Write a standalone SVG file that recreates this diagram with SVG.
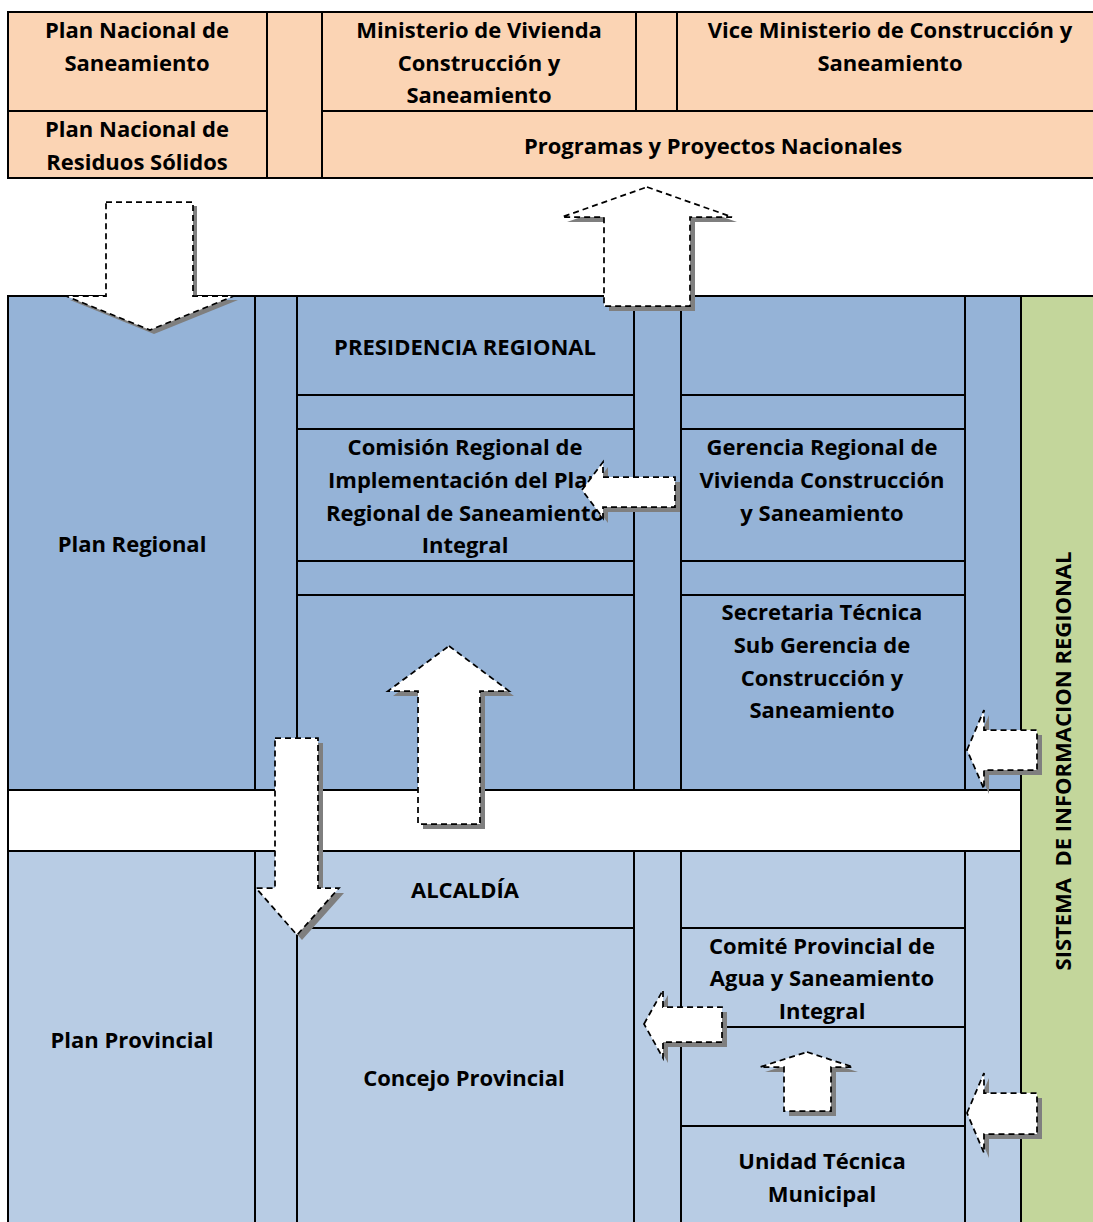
<svg xmlns="http://www.w3.org/2000/svg" width="1093" height="1222" viewBox="0 0 1093 1222">
<style>
  .t{font-family:"Open Sans","Liberation Sans",sans-serif;font-weight:bold;font-size:22px;fill:#000;text-anchor:middle}
  .ln{stroke:#000;stroke-width:2;fill:none}
  .sh{fill:#7f7f7f;stroke:none}
  .ar{fill:#fff;stroke:#000;stroke-width:1.75;stroke-dasharray:6,4;stroke-linejoin:miter}
</style>
<rect width="1093" height="1222" fill="#fff"/>

<!-- Top national table -->
<g id="national">
  <rect x="8" y="12" width="1090" height="166" fill="#FBD4B4"/>
  <g class="ln">
    <line x1="8" y1="12" x2="1093" y2="12"/>
    <line x1="8" y1="178" x2="1093" y2="178"/>
    <line x1="8" y1="11" x2="8" y2="179"/>
    <line x1="267" y1="12" x2="267" y2="178"/>
    <line x1="322" y1="12" x2="322" y2="178"/>
    <line x1="8" y1="111" x2="267" y2="111"/>
    <line x1="322" y1="111" x2="1093" y2="111"/>
    <line x1="636" y1="12" x2="636" y2="111"/>
    <line x1="677" y1="12" x2="677" y2="111"/>
  </g>
</g>
<g id="plan-nacional-saneamiento"><text class="t" x="137" y="38">Plan Nacional de</text><text class="t" x="137" y="71">Saneamiento</text></g>
<g id="plan-nacional-residuos"><text class="t" x="137" y="137">Plan Nacional de</text><text class="t" x="137" y="170">Residuos Sólidos</text></g>
<g id="ministerio"><text class="t" x="479" y="38">Ministerio de Vivienda</text><text class="t" x="479" y="71">Construcción y</text><text class="t" x="479" y="103">Saneamiento</text></g>
<g id="vice-ministerio"><text class="t" x="890" y="38">Vice Ministerio de Construcción y</text><text class="t" x="890" y="71">Saneamiento</text></g>
<g id="programas"><text class="t" x="713" y="154">Programas y Proyectos Nacionales</text></g>

<!-- Regional block -->
<g id="regional">
  <rect x="8" y="296" width="1013" height="494" fill="#95B3D7"/>
  <rect x="8" y="851" width="1013" height="371" fill="#B8CCE4"/>
  <rect x="1021" y="296" width="72" height="926" fill="#C3D69B"/>
  <g class="ln">
    <line x1="8" y1="296" x2="1093" y2="296"/>
    <line x1="8" y1="790" x2="1021" y2="790"/>
    <line x1="8" y1="851" x2="1021" y2="851"/>
    <line x1="8" y1="295" x2="8" y2="1222"/>
    <line x1="1021" y1="296" x2="1021" y2="1222"/>
    <line x1="255" y1="296" x2="255" y2="790"/>
    <line x1="297" y1="296" x2="297" y2="790"/>
    <line x1="634" y1="296" x2="634" y2="790"/>
    <line x1="681" y1="296" x2="681" y2="790"/>
    <line x1="965" y1="296" x2="965" y2="790"/>
    <line x1="297" y1="395" x2="634" y2="395"/>
    <line x1="297" y1="429" x2="634" y2="429"/>
    <line x1="297" y1="561" x2="634" y2="561"/>
    <line x1="297" y1="595" x2="634" y2="595"/>
    <line x1="681" y1="395" x2="965" y2="395"/>
    <line x1="681" y1="429" x2="965" y2="429"/>
    <line x1="681" y1="561" x2="965" y2="561"/>
    <line x1="681" y1="595" x2="965" y2="595"/>
    <line x1="255" y1="851" x2="255" y2="1222"/>
    <line x1="297" y1="851" x2="297" y2="1222"/>
    <line x1="634" y1="851" x2="634" y2="1222"/>
    <line x1="681" y1="851" x2="681" y2="1222"/>
    <line x1="965" y1="851" x2="965" y2="1222"/>
    <line x1="297" y1="928" x2="634" y2="928"/>
    <line x1="681" y1="928" x2="965" y2="928"/>
    <line x1="681" y1="1027" x2="965" y2="1027"/>
    <line x1="681" y1="1126" x2="965" y2="1126"/>
  </g>
</g>
<g id="plan-regional"><text class="t" x="132" y="552">Plan Regional</text></g>
<g id="presidencia"><text class="t" x="465" y="355">PRESIDENCIA REGIONAL</text></g>
<g id="comision"><text class="t" x="465" y="455">Comisión Regional de</text><text class="t" x="465" y="488">Implementación del Plan</text><text class="t" x="465" y="521">Regional de Saneamiento</text><text class="t" x="465" y="553">Integral</text></g>
<g id="gerencia"><text class="t" x="822" y="455">Gerencia Regional de</text><text class="t" x="822" y="488">Vivienda Construcción</text><text class="t" x="822" y="521">y Saneamiento</text></g>
<g id="secretaria"><text class="t" x="822" y="620">Secretaria Técnica</text><text class="t" x="822" y="653">Sub Gerencia de</text><text class="t" x="822" y="686">Construcción y</text><text class="t" x="822" y="718">Saneamiento</text></g>
<g id="plan-provincial"><text class="t" x="132" y="1048">Plan Provincial</text></g>
<g id="alcaldia"><text class="t" x="465" y="898">ALCALDÍA</text></g>
<g id="concejo"><text class="t" x="464" y="1086">Concejo Provincial</text></g>
<g id="comite"><text class="t" x="822" y="954">Comité Provincial de</text><text class="t" x="822" y="986">Agua y Saneamiento</text><text class="t" x="822" y="1019">Integral</text></g>
<g id="unidad"><text class="t" x="822" y="1169">Unidad Técnica</text><text class="t" x="822" y="1202">Municipal</text></g>
<g id="sistema"><text class="t" transform="translate(1071,761) rotate(-90)" xml:space="preserve">SISTEMA  DE INFORMACION REGIONAL</text></g>

<!-- Connectors (block arrows) -->
<g id="connectors">
  <g transform="translate(4,4)">
    <polygon class="sh" points="106,202 193,202 193,296 234,296 150,330 66,296 106,296"/>
  </g>
  <polygon class="ar" points="106,202 193,202 193,296 234,296 150,330 66,296 106,296"/>

  <g transform="translate(5,5)">
    <polygon class="sh" points="647,187 732,217 690,217 690,306 604,306 604,217 562,217"/>
  </g>
  <polygon class="ar" points="647,187 732,217 690,217 690,306 604,306 604,217 562,217"/>

  <g transform="translate(5,5)">
    <polygon class="sh" points="582,490 603,462 603,477 675,477 675,507 603,507 603,518"/>
  </g>
  <polygon class="ar" points="582,490 603,462 603,477 675,477 675,507 603,507 603,518"/>

  <g transform="translate(5,5)">
    <polygon class="sh" points="449,646 509,691 480,691 480,824 418,824 418,691 388,691"/>
  </g>
  <polygon class="ar" points="449,646 509,691 480,691 480,824 418,824 418,691 388,691"/>

  <g transform="translate(5,5)">
    <polygon class="sh" points="275,738 318,738 318,888 339,888 297,935 256,888 275,888"/>
  </g>
  <polygon class="ar" points="275,738 318,738 318,888 339,888 297,935 256,888 275,888"/>

  <g transform="translate(5,5)">
    <polygon class="sh" points="644,1024 663,990 663,1007 722,1007 722,1042 663,1042 663,1058"/>
  </g>
  <polygon class="ar" points="644,1024 663,990 663,1007 722,1007 722,1042 663,1042 663,1058"/>

  <g transform="translate(5,5)">
    <polygon class="sh" points="807,1052 853,1067 831,1067 831,1111 784,1111 784,1067 760,1067"/>
  </g>
  <polygon class="ar" points="807,1052 853,1067 831,1067 831,1111 784,1111 784,1067 760,1067"/>

  <g transform="translate(5,5)">
    <polygon class="sh" points="967,750 984,710 984,730 1037,730 1037,770 984,770 984,789"/>
  </g>
  <polygon class="ar" points="967,750 984,710 984,730 1037,730 1037,770 984,770 984,789"/>

  <g transform="translate(5,5)">
    <polygon class="sh" points="967,1113 984,1073 984,1093 1037,1093 1037,1134 984,1134 984,1153"/>
  </g>
  <polygon class="ar" points="967,1113 984,1073 984,1093 1037,1093 1037,1134 984,1134 984,1153"/>
</g>
</svg>
